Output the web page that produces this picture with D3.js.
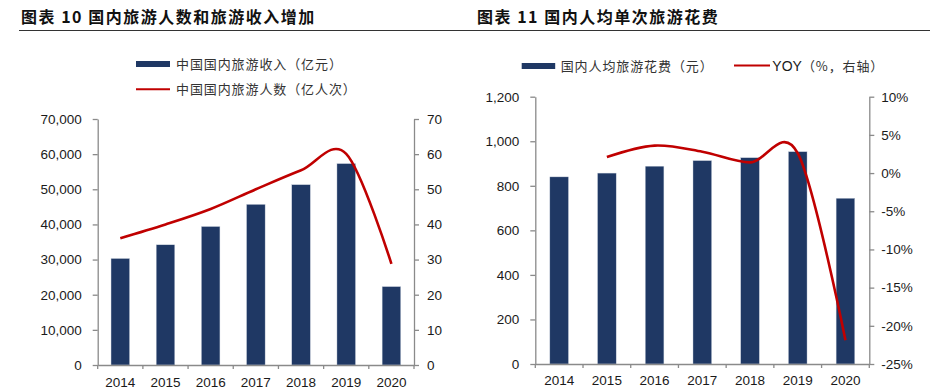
<!DOCTYPE html>
<html><head><meta charset="utf-8">
<script src="https://cdn.jsdelivr.net/npm/d3@7"></script>
<style>
body{margin:0;background:#fff;}
svg{display:block;}
.title{font-family:"Noto Sans CJK SC",sans-serif;font-weight:700;font-size:16px;fill:#111;letter-spacing:1.5px;}
.leg{font-family:"Noto Sans CJK SC",sans-serif;font-size:13px;fill:#333;letter-spacing:0.9px;}
.tick text{font-family:"Liberation Sans",Arial,sans-serif;font-size:13.5px;fill:#1a1a1a;}
.axis path,.axis line{stroke:#8a8a8a;stroke-width:1.3px;}
</style></head>
<body>
<svg id="c" width="930" height="390"></svg>
<script>
// ---------- data ----------
const years = ["2014","2015","2016","2017","2018","2019","2020"];
// chart 10
const revenue = [30300, 34200, 39400, 45700, 51300, 57300, 22300];   // 亿元
const trips = [36.1, 40.0, 44.4, 50.0, 55.4, 60.1, 28.8];            // 亿人次
const leftTicks10 = [0,10000,20000,30000,40000,50000,60000,70000];
const rightTicks10 = [0,10,20,30,40,50,60,70];
// chart 11
const spend = [840, 857, 888, 913, 926, 953, 744];                    // 元
const yoyYears = ["2015","2016","2017","2018","2019","2020"];
const yoy = [2.1, 3.6, 2.8, 1.4, 2.6, -21.9];                         // %
const leftTicks11 = [0,200,400,600,800,1000,1200];
const rightTicks11 = [-25,-20,-15,-10,-5,0,5,10];

const BAR = "#1f3864", RED = "#c00000";
const svg = d3.select("#c");

// ---------- titles ----------
svg.append("text").attr("class","title").attr("x",21).attr("y",23).text("图表 10 国内旅游人数和旅游收入增加");
svg.append("text").attr("class","title").attr("x",477).attr("y",23).text("图表 11 国内人均单次旅游花费");
svg.append("line").attr("x1",19).attr("x2",930).attr("y1",30.5).attr("y2",30.5).attr("stroke","#333").attr("stroke-width",1.2);

function drawChart(o){
  const g = svg.append("g");
  const x = d3.scaleBand().domain(years).range([o.x0,o.x1]).paddingInner(o.pad).paddingOuter(o.pad/2);
  const xb = d3.scaleBand().domain(years).range([o.x0,o.x1]);
  const yL = d3.scaleLinear().domain(o.lDom).range([o.y0,o.y1]);
  const yR = d3.scaleLinear().domain(o.rDom).range([o.y0,o.y1]);
  // bars
  g.selectAll("rect.bar").data(o.bars).join("rect").attr("class","bar")
    .attr("x",(d,i)=>x(years[i])).attr("width",x.bandwidth())
    .attr("y",d=>yL(d)).attr("height",d=>yL(0)-yL(d))
    .attr("fill",BAR).attr("stroke","#c8d0dc").attr("stroke-width",0.4);
  // axes
  g.append("g").attr("class","axis").attr("transform",`translate(${o.x0},0)`)
    .call(d3.axisLeft(yL).tickValues(o.lTicks).tickSize(5).tickPadding(11).tickFormat(o.lFmt).tickSizeOuter(0));
  g.append("g").attr("class","axis").attr("transform",`translate(${o.x1},0)`)
    .call(d3.axisRight(yR).tickValues(o.rTicks).tickSize(5).tickPadding(o.rPad).tickFormat(o.rFmt).tickSizeOuter(0));
  const axX = g.append("g").attr("class","axis").attr("transform",`translate(0,${o.y0})`)
    .call(d3.axisBottom(xb).tickSize(0).tickPadding(o.xPad).tickSizeOuter(0));
  // category boundary ticks
  axX.selectAll("line.bd").data(years.concat(["end"])).join("line").attr("class","bd")
    .attr("x1",(d,i)=> i<years.length? xb(d) : o.x1).attr("x2",(d,i)=> i<years.length? xb(d) : o.x1)
    .attr("y1",0).attr("y2",4);
  // line
  const line = d3.line().x(d=>xb(d[0])+xb.bandwidth()/2).y(d=>yR(d[1])).curve(d3.curveCardinal);
  g.append("path").datum(o.lineYears.map((yv,i)=>[yv,o.line[i]]))
    .attr("d",line).attr("fill","none").attr("stroke",RED).attr("stroke-width",2.6);
}

drawChart({x0:97.7,x1:414,y0:365,y1:119,pad:0.59,bars:revenue,lDom:[0,70000],rDom:[0,70],
  lTicks:leftTicks10,rTicks:rightTicks10,lFmt:d3.format(","),rFmt:d3.format("d"),rPad:8,xPad:12,
  line:trips,lineYears:years});
drawChart({x0:535.3,x1:869.3,y0:364,y1:96.7,pad:0.61,bars:spend,lDom:[0,1200],rDom:[-25,10],
  lTicks:leftTicks11,rTicks:rightTicks11,lFmt:d3.format(","),rFmt:d=>d+"%",rPad:7,xPad:11,
  line:yoy,lineYears:yoyYears});

// ---------- legends ----------
svg.append("rect").attr("x",136).attr("y",61).attr("width",34).attr("height",6).attr("fill",BAR);
svg.append("text").attr("class","leg").attr("x",176).attr("y",68.5).text("中国国内旅游收入（亿元）");
svg.append("line").attr("x1",136).attr("x2",170).attr("y1",89.3).attr("y2",89.3).attr("stroke",RED).attr("stroke-width",2);
svg.append("text").attr("class","leg").attr("x",176).attr("y",94).text("中国国内旅游人数（亿人次）");

svg.append("rect").attr("x",521.7).attr("y",63).attr("width",33.5).attr("height",6).attr("fill",BAR);
svg.append("text").attr("class","leg").attr("x",560.7).attr("y",70.5).text("国内人均旅游花费（元）");
svg.append("line").attr("x1",734).attr("x2",770).attr("y1",65.5).attr("y2",65.5).attr("stroke",RED).attr("stroke-width",2);
const t2 = svg.append("text").attr("class","leg").attr("x",772.3).attr("y",70.5);
t2.append("tspan").style("font-family","'Liberation Sans',Arial,sans-serif").style("font-size","14px").style("letter-spacing","0px").attr("fill","#1a1a1a").text("YOY");
t2.append("tspan").text("（%，右轴）");
</script>
</body></html>
